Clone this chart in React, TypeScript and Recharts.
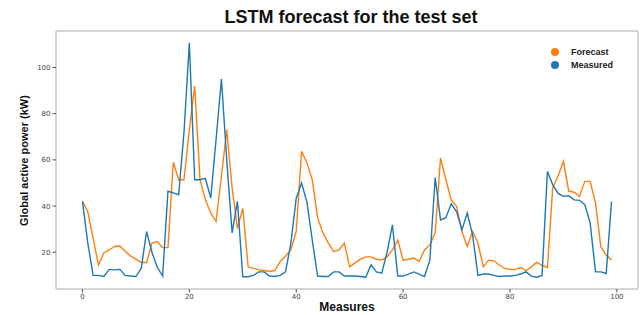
import React from 'react';
import { LineChart, Line, XAxis, YAxis, Legend, ReferenceArea } from 'recharts';

// LSTM forecast vs measured
const forecast = [
  42, 37.6, 26, 14.5, 19.7, 21, 22.5, 22.7, 20.4, 18.4,
  17, 15.6, 15.6, 24, 24.6, 22, 22, 59, 51.4, 51.4,
  73, 92, 51.4, 42.7, 37, 33.3, 52.9, 73, 48, 30.4,
  39, 13.7, 13, 12.4, 12.1, 11.7, 12.1, 16, 18.4, 21,
  29, 63.7, 58.7, 51.4, 35, 28.4, 24, 20.4, 21, 24,
  13.7, 15.4, 17, 18, 18, 17, 16.6, 18, 21, 25.3,
  16.6, 17, 17.5, 16, 21, 23.2, 28.4, 60.8, 51.4, 42.7,
  39.9, 29, 22.5, 29, 24, 13.7, 16.6, 16.3, 14.5, 13,
  12.6, 12.6, 13.4, 12, 13.7, 15.6, 14.3, 13.4, 48, 53,
  59.4, 46.4, 46, 44.2, 50.7, 50.7, 41.3, 22.4, 18.8, 16.6,
];

const measured = [
  42, 24, 10, 10, 9.5, 12.6, 12.4, 12.6, 10, 9.7,
  9.5, 13, 29, 20, 13.5, 9.7, 46.4, 45.7, 44.9, 72,
  110.7, 51.4, 51.4, 52, 43.5, 68.8, 95, 60, 28.4, 42,
  9.4, 9.4, 10, 11.5, 11.5, 9.7, 9.5, 10, 11.5, 24,
  43.4, 50, 41.7, 25.3, 9.7, 9.5, 9.5, 11.5, 11.5, 9.7,
  9.7, 9.7, 9.5, 9.2, 14.5, 11.5, 11, 20, 31.9, 9.7,
  9.7, 10.5, 11.5, 10.5, 9.5, 16.6, 52.3, 34, 35, 41,
  37.6, 29.7, 37, 27.5, 10, 10.6, 10.6, 10, 9.5, 9.7,
  9.7, 10, 10.6, 11.5, 9.7, 9.2, 10, 55, 49.2, 45.5,
  44.2, 44.5, 42.7, 42.5, 40.6, 32.6, 11.5, 11.5, 10.8, 42,
];

const xTicks = [0, 20, 40, 60, 80, 100];
const yTicks = [20, 40, 60, 80, 100];

const xDomain: [number, number] = [-4.95, 103.95];
const yDomain: [number, number] = [4.1, 115.8];

const data = measured.map((m, i) => ({ idx: i, Forecast: forecast[i], Measured: m }));

const tickStyle = { fontSize: 7, fill: '#444', fontFamily: 'DejaVu Sans' };

const App: React.FC = () => {
  return (
    <div style={{ position: 'absolute', left: 0, top: 0, width: 642, height: 315, background: '#fff' }}>
      <div
        style={{
          position: 'absolute', left: 60, width: 582, top: 7, textAlign: 'center',
          fontFamily: 'Liberation Sans', fontWeight: 'bold', fontSize: 18, color: '#111',
        }}
      >
        LSTM forecast for the test set
      </div>
      <LineChart width={642} height={315} data={data} margin={{ top: 31, right: 4, left: 0, bottom: 0 }}>
        <XAxis
          dataKey="idx"
          type="number"
          domain={xDomain}
          allowDataOverflow
          ticks={xTicks}
          height={26}
          tick={tickStyle}
          tickSize={3.5}
          axisLine={false}
          tickLine={{ stroke: '#555' }}
          label={{ value: 'Measures', position: 'insideBottom', offset: 4, style: { fontFamily: 'Liberation Sans', fontWeight: 'bold', fontSize: 12, fill: '#111' } }}
        />
        <YAxis
          type="number"
          domain={yDomain}
          allowDataOverflow
          ticks={yTicks}
          width={56}
          tick={tickStyle}
          tickSize={3.5}
          axisLine={false}
          tickLine={{ stroke: '#555' }}
          label={{ value: 'Global active power (kW)', angle: -90, position: 'insideLeft', offset: 24, dy: 66, style: { fontFamily: 'Liberation Sans', fontWeight: 'bold', fontSize: 11, fill: '#111' } }}
        />
        <ReferenceArea x1={xDomain[0]} x2={xDomain[1]} y1={yDomain[0]} y2={yDomain[1]} fill="none" stroke="#aaa" strokeWidth={1} />
        <Legend
          layout="vertical"
          verticalAlign="middle"
          align="center"
          iconType="circle"
          iconSize={8}
          wrapperStyle={{ top: 45.5, left: 551, width: 80, fontFamily: 'Liberation Sans', fontWeight: 'bold', fontSize: 9, lineHeight: '13px' }}
          formatter={(value: string) => <span style={{ color: '#222', marginLeft: 8 }}>{value}</span>}
        />
        <Line type="linear" dataKey="Forecast" stroke="#ff7f0e" strokeWidth={1.4} dot={false} isAnimationActive={false} />
        <Line type="linear" dataKey="Measured" stroke="#1f77b4" strokeWidth={1.4} dot={false} isAnimationActive={false} />
      </LineChart>
    </div>
  );
};

export default App;
